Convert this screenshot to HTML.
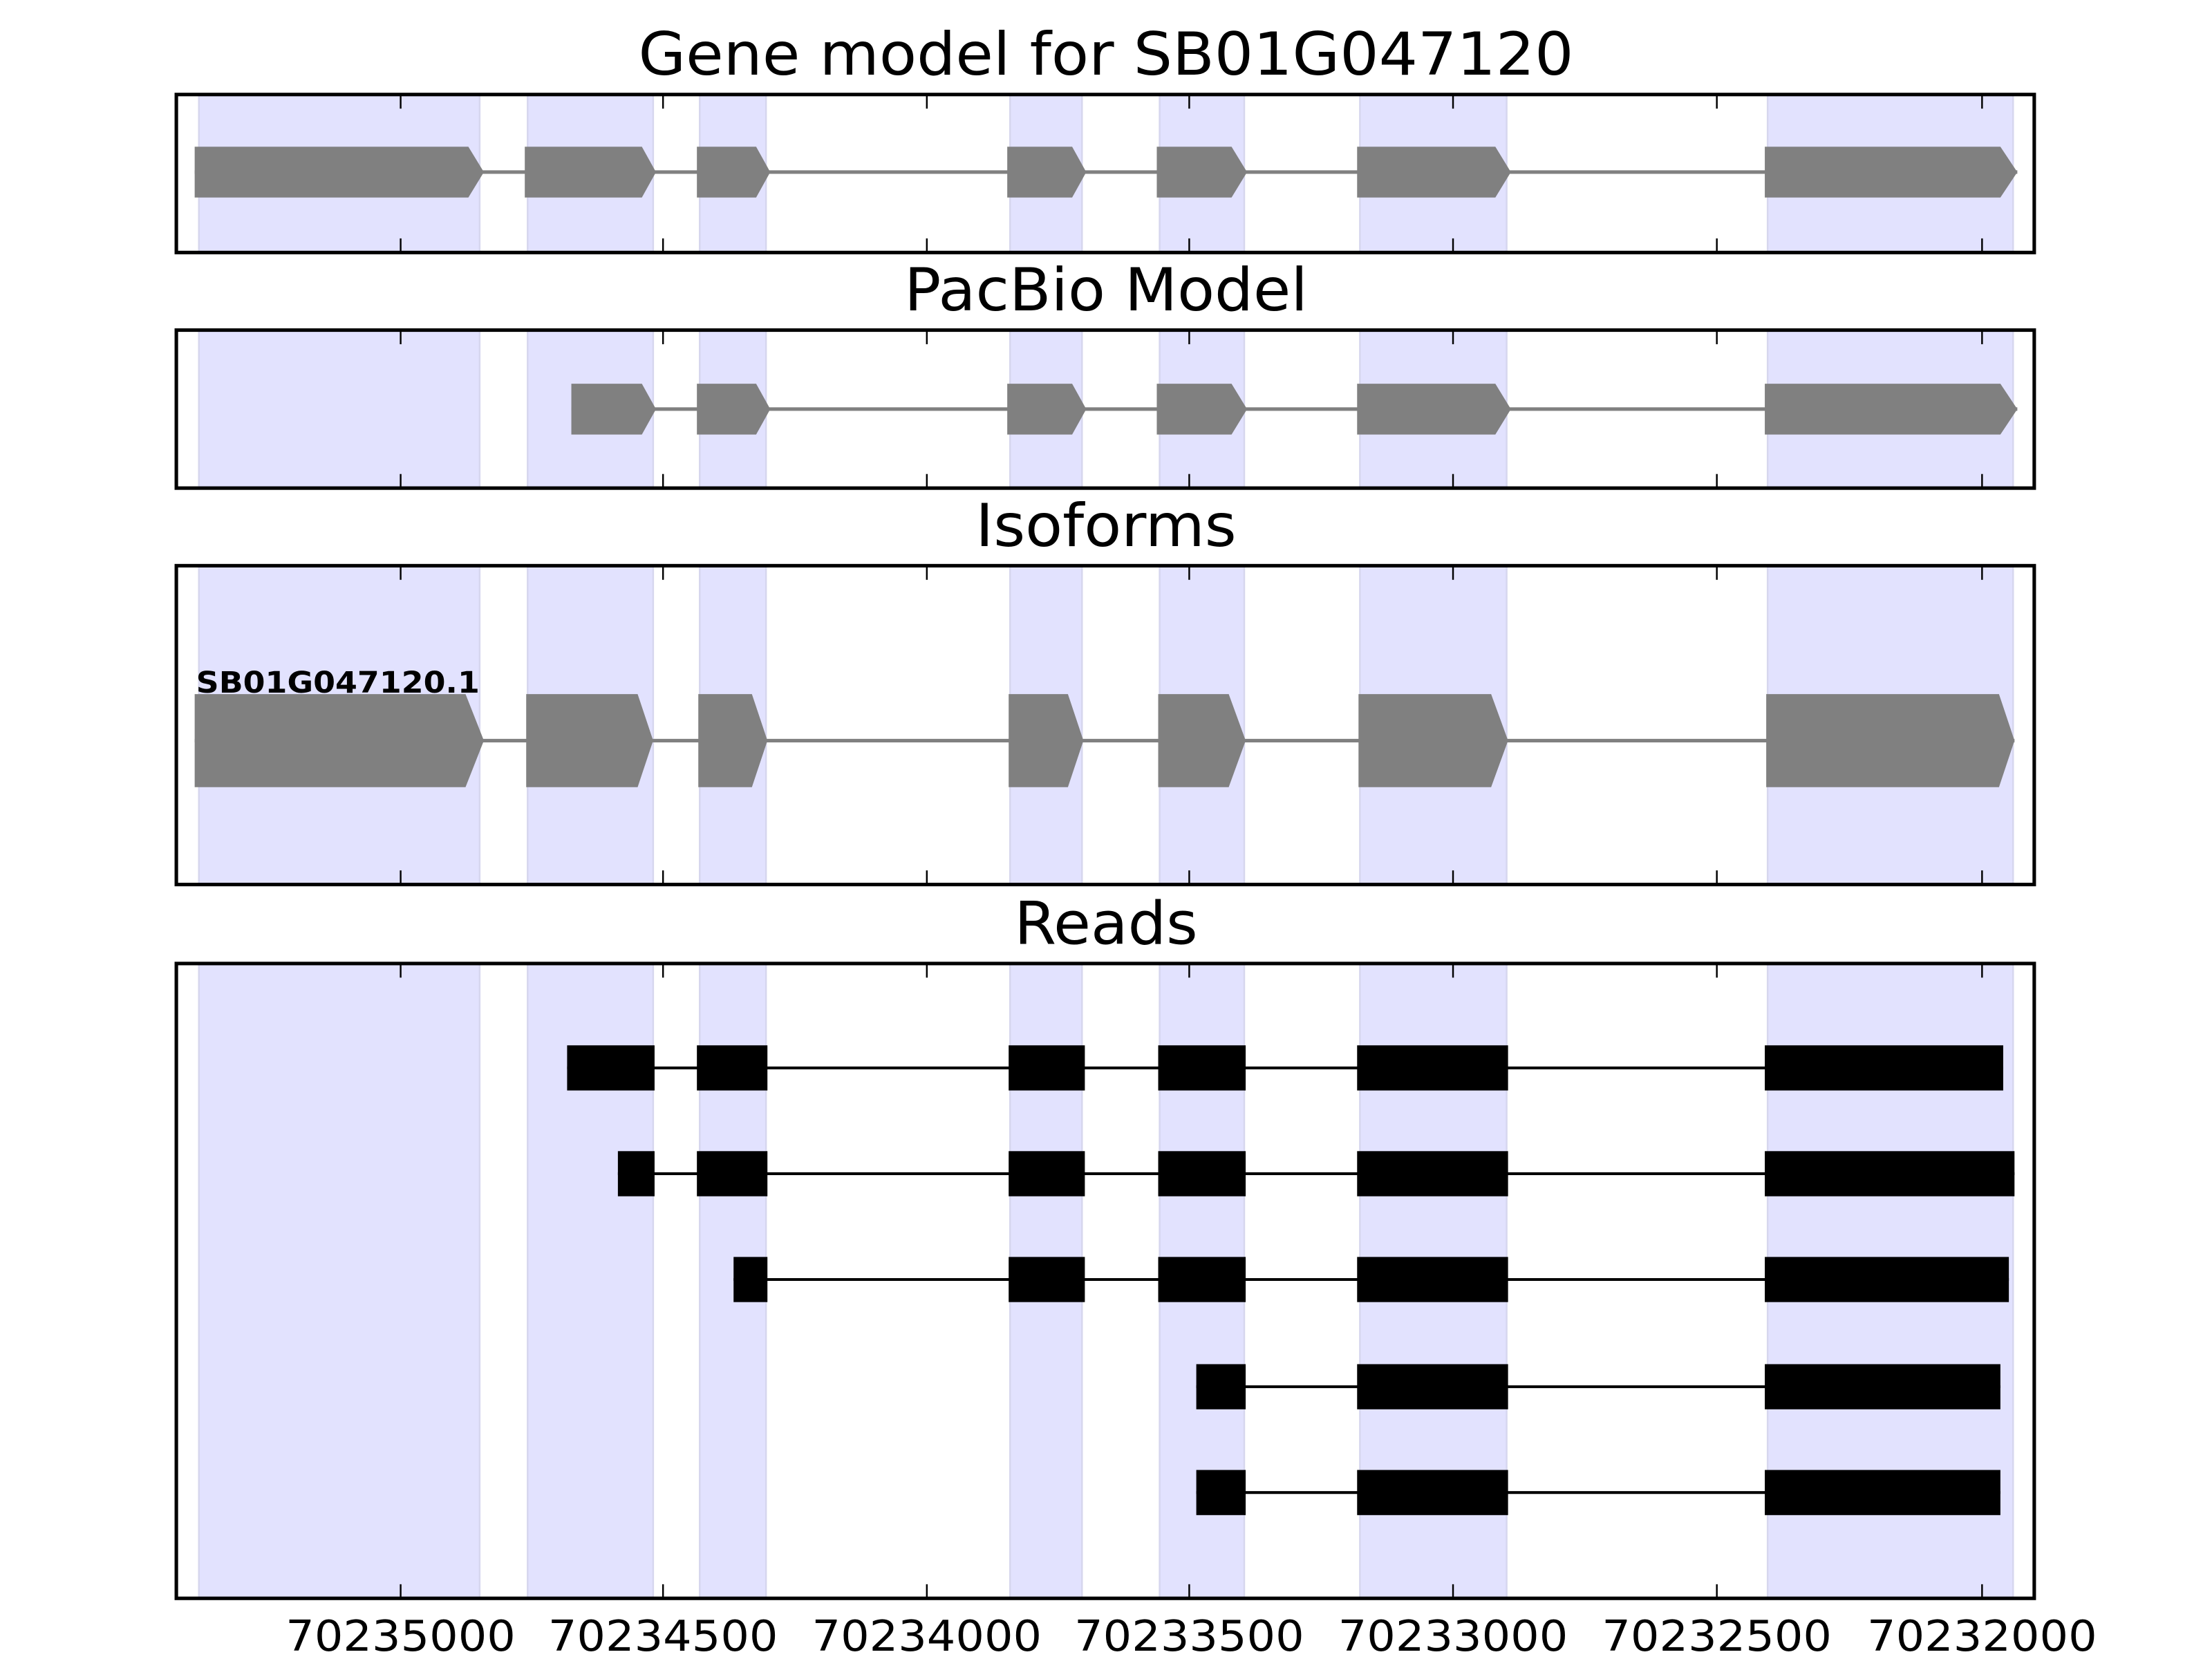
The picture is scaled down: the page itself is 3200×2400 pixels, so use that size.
<!DOCTYPE html>
<html><head><meta charset="utf-8"><style>html,body{margin:0;padding:0;background:#fff}svg{display:block}</style></head><body>
<svg width="3200" height="2400" viewBox="0 0 1568 1176" xmlns="http://www.w3.org/2000/svg" font-family="DejaVu Sans, Liberation Sans, sans-serif">
<script>
(function(){
var NS="http://www.w3.org/2000/svg";
var svg=document.currentScript.parentNode;
function el(n,a,p){var e=document.createElementNS(NS,n);for(var k in a)e.setAttribute(k,a[k]);(p||svg).appendChild(e);return e;}
var bands=[[141,340],[374,463],[496,543],[716,767],[822,882],[964,1068],[1253,1427]];
var panels=[[67,179],[234,346],[401,627],[683,1133]];
var ticks=[284,470,657,843,1030,1217,1405];
panels.forEach(function(p){
 bands.forEach(function(b){el("rect",{x:b[0],y:p[0],width:b[1]-b[0],height:p[1]-p[0],fill:"#e2e2fe",stroke:"#d6d6ee","stroke-width":1.2});});
});
function arrows(list,cy,h){
 var x0=list[0][0],x1=list[list.length-1][2];
 el("line",{x1:x0,y1:cy,x2:x1,y2:cy,stroke:"#808080","stroke-width":2.5});
 list.forEach(function(a){
  var t=cy-h/2,b=cy+h/2;
  el("polygon",{points:a[0]+","+t+" "+a[1]+","+t+" "+a[2]+","+cy+" "+a[1]+","+b+" "+a[0]+","+b,fill:"#808080"});
 });
}
var gm=[[138,332,343],[372,455,465],[494,536,546],[714,760,770],[820,873,884],[962,1060,1071],[1251,1418,1430]];
arrows(gm,122,36);
var pb=[[405,455,465],[494,536,546],[714,760,770],[820,873,884],[962,1060,1071],[1251,1418,1430]];
arrows(pb,290,36);
var iso=[[138,330,343],[373,452,463],[495,533,544],[715,757,768],[821,871,883],[963,1057,1069],[1252,1417,1428]];
arrows(iso,525,66);
var t=el("text",{x:139,y:491,"font-size":21,"font-weight":"bold",fill:"#000",textLength:201,lengthAdjust:"spacingAndGlyphs"});t.textContent="SB01G047120.1";
var rows=[
 [757,[[402,464],[494,544],[715,769],[821,883],[962,1069],[1251,1420]]],
 [832,[[438,464],[494,544],[715,769],[821,883],[962,1069],[1251,1428]]],
 [907,[[520,544],[715,769],[821,883],[962,1069],[1251,1424]]],
 [983,[[848,883],[962,1069],[1251,1418]]],
 [1058,[[848,883],[962,1069],[1251,1418]]]];
rows.forEach(function(r){
 var y=r[0],ex=r[1];
 el("line",{x1:ex[0][0],y1:y,x2:ex[ex.length-1][1],y2:y,stroke:"#000","stroke-width":2});
 ex.forEach(function(e){el("rect",{x:e[0],y:y-16,width:e[1]-e[0],height:32,fill:"#000"});});
});
panels.forEach(function(p){
 ticks.forEach(function(x){
  el("line",{x1:x,y1:p[0],x2:x,y2:p[0]+10,stroke:"#000","stroke-width":1.2});
  el("line",{x1:x,y1:p[1],x2:x,y2:p[1]-10,stroke:"#000","stroke-width":1.2});
 });
 el("rect",{x:125,y:p[0],width:1317,height:p[1]-p[0],fill:"none",stroke:"#000","stroke-width":2.5});
});
var titles=[["Gene model for SB01G047120",53,663],["PacBio Model",220,286],["Isoforms",387,185],["Reads",669,130]];
titles.forEach(function(tt){var e=el("text",{x:784,y:tt[1],"font-size":42,"text-anchor":"middle",textLength:tt[2],lengthAdjust:"spacingAndGlyphs",fill:"#000"});e.textContent=tt[0];});
var labs=["70235000","70234500","70234000","70233500","70233000","70232500","70232000"];
ticks.forEach(function(x,i){var e=el("text",{x:x,y:1170,"font-size":30,"text-anchor":"middle",textLength:163,lengthAdjust:"spacingAndGlyphs",fill:"#000"});e.textContent=labs[i];});
})();
</script>
</svg>
</body></html>
